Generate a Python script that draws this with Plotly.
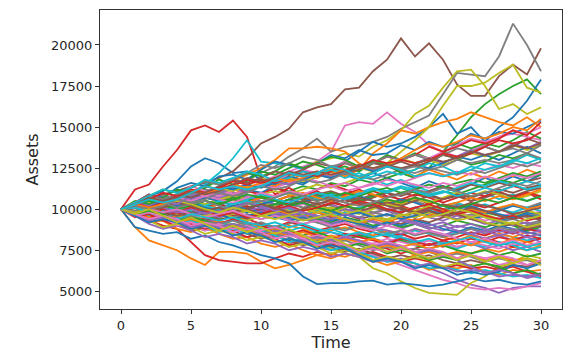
import plotly.graph_objects as go

time = list(range(31))

path_00 = [10000,10400,10800,11100,11700,12600,13100,12800,12200,12300,11800,11500,11900,11600,12000,12300,12100,11800,12200,11900,11600,11300,11700,11400,11100,11500,11900,11600,12000,11700,12100]
path_01 = [10000,8900,8100,7800,7500,7000,6600,7400,7400,7300,6800,6400,6600,6900,7200,7000,7300,7100,6800,7100,6900,7200,7500,7300,7000,7300,7600,7400,7700,7500,7800]
path_02 = [10000,10200,10500,10300,10600,10400,10800,11100,10900,11200,11500,11300,11100,11400,11200,11600,11400,11800,11600,11900,12200,11900,12500,13500,14500,15600,16400,17000,17500,17900,17000]
path_03 = [10000,11200,11500,12600,13600,14800,15100,14700,15400,14400,11900,10900,11300,10800,11100,10600,10900,11200,10800,11000,10500,10700,10300,10600,10900,10500,10800,11100,10700,11000,10600]
path_04 = [10000,9700,9400,9600,9200,9000,8700,8900,8500,8300,8500,8100,7900,8100,7700,7500,7700,7300,7100,6800,7000,6700,6400,6100,5700,5400,5200,4900,5200,5300,5300]
path_05 = [10000,10300,10600,10900,11100,11400,11600,11900,12300,13100,14000,14400,14900,15900,16200,16400,17300,17400,18400,19100,20400,19300,20100,19100,17600,16900,16900,18100,18800,18200,19800]
path_06 = [10000,10300,10100,10400,10800,10600,11000,11300,11100,11500,11700,12000,12300,12600,12900,13500,15100,15300,15200,15900,15200,14700,13900,13500,13200,13600,13900,14400,14600,14400,14200]
path_07 = [10000,10200,10500,10300,10700,10900,11200,11000,11400,11800,12200,12600,13200,13700,14300,13500,13800,13900,14100,14400,14900,15300,15700,17000,18300,18200,18100,19300,21300,20000,18400]
path_08 = [10000,10100,9800,10200,10400,10300,10700,10900,11200,11000,11400,11800,12000,12400,12900,13100,13400,13200,13800,14200,14800,15800,16300,17400,18400,18500,17500,16100,16400,15800,16200]
path_09 = [10000,10300,10600,10400,10700,11000,11500,12200,13100,14200,12900,12800,12700,12400,12100,12300,11900,12200,11800,11500,11800,11400,11100,11400,11000,10700,11000,10600,10900,10500,10800]
path_10 = [10000,9800,10100,10400,10200,10500,10800,10600,10900,11200,11000,11400,11700,11500,12000,12400,12900,13500,14100,13800,14000,14400,15000,15800,14600,15000,14100,15000,15600,16600,17900]
path_11 = [10000,10200,9900,10300,10600,10400,10800,11100,10900,11300,11600,11400,11800,12100,11900,12300,12000,12400,13400,14000,14800,14600,15000,15300,15500,15900,15600,15300,15100,15600,15000]
path_12 = [10000,10200,10400,10200,9900,10100,10300,10000,9800,10100,9900,10200,10400,10100,9900,9700,10000,9800,10100,10300,10100,9800,9600,9900,9700,9500,9800,9600,9400,9700,9500]
path_13 = [10000,9600,9300,9000,8800,8000,7200,6900,6800,6700,6700,7000,7300,7100,7400,7200,7600,7400,7800,7600,7300,7600,7900,7700,8000,7800,8200,8000,7700,8000,8200]
path_14 = [10000,9800,10100,10300,10100,10400,10200,10000,9700,9500,9800,9600,9900,9700,9500,9200,9400,9100,9300,9000,8800,9100,8900,8700,9000,8800,8500,8800,8600,8900,8700]
path_15 = [10000,10300,10100,10400,10200,10500,10700,10500,10800,10600,10300,10500,10800,10600,10900,11100,10800,10600,10900,10700,11000,10800,11100,11400,11200,11500,11300,11600,11400,11700,11900]
path_16 = [10000,9800,9500,9700,9400,9100,9300,9000,8700,8900,8600,8300,8500,8200,7900,8100,7800,7500,7200,6900,6600,6300,6000,5700,5500,5200,5100,5200,5100,5300,5500]
path_17 = [10000,9700,9900,9600,9800,10000,9700,9900,10200,10000,10300,10100,9800,10000,10200,9900,10100,10400,10200,10000,10300,10500,10200,10000,10300,10100,9800,10000,10300,10100,10400]
path_18 = [10000,9900,9600,9800,9500,9200,9400,9100,8800,9000,8700,8400,8600,8200,7900,7600,7300,7100,6400,6100,5600,5200,4900,4840,4780,5500,5900,6500,6800,7200,7000]
path_19 = [10000,10300,10000,10200,9900,9700,10000,9800,9500,9700,9400,9600,9300,9100,9300,9000,8800,9100,8900,8600,8400,8700,8500,8300,8600,8400,8200,8500,8300,8100,8300]
path_20 = [10000,8900,8700,8500,8600,8200,8400,8000,7800,7500,7200,7000,6700,5900,5440,5500,5500,5600,5650,5400,5500,5400,5300,5400,5600,5800,5600,5700,5500,5400,5600]
path_21 = [10000,10300,10600,10400,10800,11100,10900,11300,11700,12100,12500,13000,13700,13700,13800,13700,13500,12800,12400,12700,12300,12000,12400,12100,11800,12200,11900,12300,12000,12400,12100]
path_22 = [10000,9800,10100,9900,9700,9900,9600,9400,9500,9300,9600,9800,9500,9700,9400,9200,9500,9300,9000,9200,8900,9100,8800,9000,9300,9100,8900,9200,9000,8700,8900]
path_23 = [10000,10300,10500,10200,10600,10400,10800,11000,10700,11100,10900,11300,11000,10800,11200,11500,11200,10900,11100,10800,10600,10900,10700,10400,10700,11000,10800,11100,11400,11200,11500]
path_24 = [10000,9600,9400,9700,9300,9100,9400,9200,8900,8700,9000,8800,8500,8700,8400,8600,8300,8500,8200,8000,8300,8100,7800,8000,7700,7900,7600,7800,7500,7700,7400]
path_25 = [10000,10200,9900,10100,10400,10200,10500,10300,10100,10400,10700,10500,10800,10600,10300,10500,10200,10400,10700,11000,10800,11100,10900,10600,10800,10500,10700,11000,10800,11100,11300]
path_26 = [10000,9700,9900,10200,10000,9700,9500,9800,9600,9900,10100,9800,10000,10300,10100,9800,9600,9900,9700,10000,10200,9900,9700,9500,9800,9600,9300,9500,9800,9600,9900]
path_27 = [10000,10400,10200,10500,10800,10600,10300,10600,10900,10700,10400,10600,10300,10100,10400,10200,9900,10100,9800,10000,9700,9500,9800,9600,9400,9700,9500,9200,9400,9100,9300]
path_28 = [10000,10100,10300,10000,10200,10500,10300,10600,10800,10600,10900,11100,10900,11200,11500,11300,11600,11900,12300,12800,13500,14200,15000,16300,17500,17500,17700,18300,18800,17400,17100]
path_29 = [10000,9900,9600,9800,9500,9700,9900,9600,9800,10100,9900,10200,10000,9700,9900,9600,9800,10100,10300,10000,9800,10100,9900,10200,10400,10100,10300,10000,9800,10100,9900]
path_30 = [10000,10200,10400,10100,9900,10200,10000,10300,10100,9800,10000,9700,9500,9800,9600,9300,9500,9200,9400,9700,9500,9800,9600,9900,9700,9400,9600,9300,9500,9800,9600]
path_31 = [10000,9700,9500,9300,9600,9400,9100,9300,9000,9200,8900,8700,9000,8800,8500,8700,8900,8600,8400,8700,8500,8800,8600,8300,8100,8400,8200,8500,8300,8600,8400]
path_32 = [10000,10300,10100,10400,10200,9900,10100,10400,10700,10500,10800,10600,10300,10500,10800,11000,10700,10500,10800,11100,11300,11000,10800,11100,10900,11200,11500,11800,11600,11900,12100]
path_33 = [10000,9800,9500,9700,9400,9200,9500,9300,9600,9400,9100,8900,9200,9000,8700,8900,9100,8800,8600,8300,8500,8200,8400,8100,8300,8600,8400,8700,8500,8800,8600]
path_34 = [10000,10200,10500,10700,10400,10600,10900,10700,11000,10800,10500,10300,10600,10400,10100,10300,10000,9800,10100,9900,9600,9800,9500,9300,9600,9400,9100,9300,9000,9200,8900]
path_35 = [10000,9700,9900,9600,9400,9600,9300,9500,9700,9400,9600,9900,9700,10000,9800,9500,9700,9400,9600,9300,9100,9400,9200,9500,9700,9400,9200,8900,9100,8800,9000]
path_36 = [10000,10300,10600,10400,10700,11000,10800,11100,10900,11200,11500,11300,11600,11900,11700,11400,11600,11300,11500,11800,11600,11900,12200,12000,12300,12100,12400,12700,12500,12800,12600]
path_37 = [10000,9800,10000,9700,9900,10200,10000,9800,9500,9700,9400,9600,9300,9500,9200,9400,9700,9500,9800,9600,9900,10100,9800,10000,9700,9900,9600,9400,9700,9500,9800]
path_38 = [10000,10100,10400,10200,9900,10100,9800,10000,10300,10100,10400,10200,9900,9700,10000,9800,10100,10400,10200,10500,10300,10600,10400,10700,11000,10800,11100,10900,10600,10800,11100]
path_39 = [10000,9700,9400,9600,9300,9500,9200,9000,9300,9100,8800,9000,8700,8900,8600,8800,8500,8300,8600,8400,8200,7900,8100,7800,7600,7900,7700,8000,7800,7500,7700]
path_40 = [10000,10300,10100,9900,10200,10400,10700,10500,10200,10400,10100,10300,10600,10400,10700,10900,10600,10800,10500,10300,10600,10400,10100,9900,10200,10000,9700,9900,10200,10000,10300]
path_41 = [10000,9900,10200,10500,10300,10000,9800,10100,9900,9600,9800,10000,9700,9500,9800,9600,9300,9100,9400,9200,9500,9300,9600,9900,9700,10000,9800,10100,10300,10000,10200]
path_42 = [10000,9600,9800,9500,9300,9000,9200,8900,9100,8800,8600,8900,8700,8400,8600,8300,8100,8400,8200,7900,8100,7800,7600,7800,7500,7300,7500,7200,7400,7100,7300]
path_43 = [10000,10200,10000,10300,10600,10400,10100,10300,10000,10200,9900,10100,10400,10700,10500,10800,10600,10300,10100,10400,10200,9900,10100,9800,10000,10300,10100,10400,10700,11000,10800]
path_44 = [10000,9800,10100,9900,10200,10000,9700,9500,9800,9600,9900,9700,9400,9600,9300,9100,9400,9200,8900,8700,8500,8800,8600,8400,8700,8500,8200,8400,8100,8300,8000]
path_45 = [10000,10100,9800,10000,10200,9900,9700,10000,9800,10100,10300,10000,10200,10500,10300,10000,10200,9900,10100,10400,10200,10500,10800,10600,10900,10700,11000,11200,11000,11300,11500]
path_46 = [10000,9600,9300,9500,9200,9000,8700,8900,8600,8800,8500,8300,8600,8400,8200,8000,8300,8100,7900,8200,8000,7800,8100,7900,7700,8000,7800,7600,7900,7700,8000]
path_47 = [10000,10300,10500,10800,10600,10900,11200,11000,11300,11100,11400,11700,11500,11800,12100,11900,12200,12000,11800,12100,12400,12200,12500,12300,12100,12400,12200,12500,12800,12600,12900]
path_48 = [10000,9800,9600,9900,9700,9400,9600,9800,9500,9300,9600,9400,9700,10000,9800,10100,9900,9700,10000,10300,10100,9900,10200,10000,9800,9500,9700,9400,9600,9900,9700]
path_49 = [10000,10200,10500,10300,10100,10400,10200,10500,10300,10600,10900,10700,11000,10800,10600,10900,10700,11000,11300,11100,11400,11200,10900,11100,10800,11000,11300,11100,11400,11700,11500]
path_50 = [10000,9700,9900,10100,9800,9600,9900,9700,9400,9600,9800,9500,9300,9500,9200,9000,9300,9100,8900,9200,9000,9300,9100,8800,8600,8900,8700,9000,8800,8600,8400]
path_51 = [10000,10300,10000,9800,10100,10300,10000,10300,10600,10400,10700,10500,10800,11000,10700,10500,10800,11100,10900,10600,10400,10700,10500,10200,10400,10700,10500,10800,10600,10900,11200]
path_52 = [10000,10100,9900,10200,10000,10300,10500,10300,10600,10400,10100,10300,10600,10800,10500,10700,11000,10800,11100,11300,11000,11200,11500,11300,11600,11800,11600,11900,12200,12000,12300]
path_53 = [10000,9700,9400,9600,9800,9500,9300,9100,9400,9200,9000,8700,8500,8700,8400,8200,8500,8300,8100,7900,8200,8000,7800,8100,7900,8200,8000,8300,8100,8400,8200]
path_54 = [10000,10200,10000,9700,9900,9600,9800,10000,9700,9900,10100,9800,9600,9800,9500,9700,10000,9800,9500,9700,9400,9200,9000,9200,8900,9100,8800,8600,8800,8500,8700]
path_55 = [10000,9900,10100,9800,9600,9800,10100,9900,10200,10000,9700,9900,10200,10400,10100,10300,10600,10400,10200,9900,10100,9800,10000,10300,10100,10400,10200,10000,9700,9900,10100]
path_56 = [10000,10300,10100,10400,10700,10500,10800,10600,10400,10700,11000,10800,11100,10900,11200,11400,11100,11300,11600,11400,11700,11500,11300,11600,11400,11700,12000,11800,12100,11900,12200]
path_57 = [10000,9700,9900,9700,9400,9600,9300,9100,9300,9000,9200,8900,9100,9400,9200,8900,8700,9000,8800,8500,8700,8400,8600,8300,8500,8800,8600,8900,8700,9000,9200]
path_58 = [10000,10200,9900,10100,10300,10000,10200,9900,9700,9900,9600,9800,10100,9900,10200,10000,9700,9900,9600,9400,9700,9500,9800,9600,9300,9500,9200,9000,9200,8900,9100]
path_59 = [10000,9800,9600,9900,10100,9900,10200,10000,10300,10500,10300,10600,10400,10700,11000,10800,10600,10900,11200,11000,11300,11100,10800,11000,11300,11600,11400,11700,11500,11200,11400]
path_60 = [10000,10100,10300,10500,10200,10400,10100,9900,10200,10000,10300,10500,10200,10400,10100,9900,9600,9800,9500,9700,9400,9600,9900,9700,10000,10200,9900,9700,9500,9700,9400]
path_61 = [10000,9800,9500,9300,9100,9300,9000,8800,9000,8700,8500,8800,8600,8300,8100,8400,8200,8000,8200,7900,7700,7900,7600,7800,8000,7800,8100,7900,8200,8000,7800]
path_62 = [10000,10300,10500,10300,10000,10200,10500,10300,10600,10900,10700,10500,10200,10400,10100,9900,10200,10000,10300,10600,10400,10700,10500,10200,10000,10300,10600,10400,10700,10500,10800]
path_63 = [10000,9900,9700,10000,9800,10100,9900,9600,9800,9500,9700,10000,10200,9900,10100,10400,10200,10500,10300,10000,9800,10100,10300,10000,9700,9900,9600,9400,9600,9300,9500]
path_64 = [10000,10100,10300,10100,9800,10000,9700,9900,10100,10400,10200,9900,10100,9800,9600,9400,9700,9500,9200,9000,9300,9100,8800,9000,8700,8500,8700,8400,8600,8300,8500]
path_65 = [10000,9700,9900,10100,10400,10200,9900,10100,9800,10000,10300,10100,9800,10000,10300,10600,10400,10700,10500,10200,10000,9700,9900,9600,9800,10100,9900,9600,9400,9600,9300]
path_66 = [10000,10200,10000,9800,10000,9700,9500,9700,9900,9600,9400,9600,9300,9100,9300,9000,9200,8900,8700,9000,8800,8500,8700,8500,8200,8000,8200,7900,8100,7800,8000]
path_67 = [10000,9900,10200,10400,10100,10300,10500,10200,10000,10300,10500,10700,11000,10800,10500,10700,10400,10200,10400,10700,10900,11200,11000,11300,11100,10800,11000,11300,11600,11400,11700]
path_68 = [10000,9800,10000,10300,10500,10300,10000,9800,10100,9900,9600,9400,9600,9300,9500,9700,9400,9200,9500,9300,9600,9800,9500,9700,10000,9800,9500,9300,9100,9400,9600]
path_69 = [10000,10100,9800,9600,9400,9700,9500,9300,9500,9200,9000,9200,8900,9100,8800,8600,8400,8600,8300,8500,8300,8000,8200,7900,8100,8300,8000,7800,8000,7700,7900]
path_70 = [10000,10400,10900,10700,11300,11600,11400,12000,12100,11800,12400,12900,12700,12500,12800,13300,13100,13600,13300,13400,13900,13600,14100,13800,14000,14600,14300,14700,14600,15000,15400]
path_71 = [10000,9600,9200,9300,8800,8600,8900,8500,8200,8300,7900,7700,7900,7500,7200,7300,7100,7400,6900,6600,6800,6700,6300,6500,6400,6600,6200,6000,6300,6200,6300]
path_72 = [10000,10500,10300,10700,11200,11000,11300,11800,11500,11700,12300,12100,12500,12900,12700,12400,12600,12300,12800,13300,13000,13400,13100,13400,14000,13700,14000,13800,14200,14700,14300]
path_73 = [10000,9500,9700,9300,9000,9100,8800,9000,8700,8300,8500,8200,7800,8000,7700,7900,7600,7200,7400,7100,6800,7000,6800,6400,6600,6400,6500,6300,6500,6200,5900]
path_74 = [10000,10400,10200,10500,10300,10800,11100,10900,11300,11000,11400,11700,11500,11900,12200,12000,12400,12700,12400,12600,12300,12800,13100,12800,13200,13600,13300,13500,14000,13700,14100]
path_75 = [10000,9600,9200,9400,9100,8700,8900,8700,8800,8500,8200,8400,8100,7800,8000,7700,7400,7600,7300,7000,7200,7000,7200,6900,6700,6900,6700,6400,6600,6500,6800]
path_76 = [10000,10400,10900,10600,10900,11400,11100,10800,11100,11600,11900,11700,12100,12400,12200,12500,12900,12600,12900,12700,13000,13300,13100,13500,13900,14300,14100,14400,14800,14600,15000]
path_77 = [10000,9700,9300,9500,9200,9400,9100,8700,8900,8700,8300,8500,8300,7900,8100,7900,8100,7800,7500,7700,7500,7600,7400,7100,7300,7100,6800,7000,6800,6900,6600]
path_78 = [10000,10300,10700,10500,10900,11200,11000,11300,11100,11400,11900,11600,11900,11700,12000,12500,12200,12500,12300,12600,13100,12800,13000,12700,13000,13400,13200,13500,13900,13600,13900]
path_79 = [10000,9600,9800,9500,9100,9300,9000,8600,8800,8500,8700,8400,8000,8200,7900,7500,7700,7400,7100,6800,6900,6700,6400,6500,6300,6100,6300,6100,5900,6000,5800]
path_80 = [10000,10300,10100,10500,10900,10700,11000,11400,11200,11500,11300,11600,12000,11800,12100,11900,12200,12600,12300,12600,12400,12700,12500,12800,13200,13000,13300,13000,13400,13800,13400]
path_81 = [10000,9700,9900,9600,9200,9400,9200,8800,9000,8800,8400,8600,8400,8600,8300,8000,8200,8000,7600,7800,7600,7200,7400,7200,7400,7200,6900,7100,6900,7000,6800]
path_82 = [10000,10300,10800,11200,11000,11300,11700,11500,11800,12200,12000,12300,12800,12500,12800,13200,13000,12600,12900,12700,12200,12400,12900,13300,13100,12700,12900,13300,13100,13400,13000]
path_83 = [10000,10400,10100,10400,10800,11200,11000,11300,11700,11500,11800,11600,11900,12300,12000,12300,12800,12500,12800,13200,13000,13300,13800,13500,13800,14200,14000,14300,14800,14500,15300]
path_84 = [10000,9600,9100,8800,9000,8700,8300,8500,8300,7900,8100,7900,7500,7700,7500,7100,7300,7100,6800,6900,6800,6500,6700,6500,6200,6300,6200,5900,6000,5900,6100]
path_85 = [10000,10400,10900,10600,10900,10700,11000,11400,11800,11600,11900,12300,12100,12400,12800,12600,12200,12400,12800,12600,12900,12600,12900,13300,13100,13400,13800,13500,13800,14300,14000]
path_86 = [10000,9600,9800,9500,9000,9200,8900,9100,8800,9000,8700,8900,8600,8200,8400,8200,7800,8000,7800,8000,7800,7400,7600,7400,7000,7200,7000,6600,6800,6600,6900]
path_87 = [10000,10300,10800,10600,10900,11300,11700,11500,11800,12200,12700,12500,12800,13200,13000,12600,12800,12500,12800,13200,13000,13300,13000,13300,13700,13500,13800,13500,13700,13400,13900]
path_88 = [10000,9700,9300,8900,9100,8900,8500,8700,8500,8100,8300,8100,7700,7900,7700,7300,7500,7300,6900,7100,6900,7100,6900,6500,6700,6500,6700,6500,6700,7000,6800]
path_89 = [10000,10400,10800,11200,11000,11300,11800,11600,11900,12300,12100,11700,11900,12300,12100,12400,12200,11800,12000,12300,12100,12400,12800,12600,12200,12400,12800,12600,12900,13300,13000]
path_90 = [10000,9600,9200,9400,9200,8800,9000,8800,8400,8600,8400,8000,8200,8000,7600,7800,7600,7200,6800,7000,6800,6400,6600,6400,6000,6200,6000,6200,6600,6400,6700]
path_91 = [10000,10300,10100,10300,10700,11100,10900,11200,11500,11300,11600,11900,11700,11900,12300,12100,12400,12700,12500,12700,13100,13600,14000,13800,14100,14500,14300,14600,15000,14800,15500]
path_92 = [10000,9700,9900,9700,9300,9500,9300,8900,9100,8900,8500,8700,8500,8100,8300,8100,7700,7900,7700,7300,7500,7300,6900,7100,6900,6500,6700,6500,6100,6300,6000]
path_93 = [10000,10300,10600,11000,10800,11000,11400,11200,11500,11800,11600,11800,12200,12000,12200,12600,12400,12600,13000,12800,13000,12800,13000,13400,13200,13400,13800,14200,14000,14200,14700]
path_94 = [10000,9700,9300,9500,9300,8900,9100,8900,9100,8900,8500,8700,8500,8100,8300,8100,8300,8100,7700,7900,7700,7300,7500,7300,6900,6500,6100,6300,6100,5800,6000]
path_95 = [10000,10300,10700,10500,10700,11100,10900,11100,11500,11900,11700,11900,12300,12100,12300,12100,12300,12700,12500,12700,12500,12700,13100,12900,13100,13500,13300,13500,13900,13700,14000]
path_96 = [10000,9700,9400,9600,9400,9000,9200,9000,8600,8800,8600,8200,8400,8200,7800,8000,7800,7400,7600,7400,7600,7400,7000,7200,7000,7200,7000,7200,7000,6600,6900]
path_97 = [10000,10200,10000,10200,10600,10400,10600,11000,10800,11000,11400,11200,11400,11800,11600,11800,12200,12000,12200,12600,12400,12600,12400,12600,13000,12800,13000,12800,13000,13400,13100]
path_98 = [10000,9700,10000,9600,9200,9500,9100,8700,9000,8600,8900,8500,8800,8400,8000,8300,7900,7500,7800,7400,7700,7300,7000,7300,6900,7200,6800,7100,6700,7000,6600]
path_99 = [10000,10300,10600,10400,10600,11000,11400,11200,11400,11200,11400,11800,12200,12000,12200,12600,12400,12000,12200,12600,12400,12000,12200,12000,12200,12600,12400,12600,13000,12800,13100]

paths = [path_00, path_01, path_02, path_03, path_04, path_05, path_06, path_07, path_08, path_09,
         path_10, path_11, path_12, path_13, path_14, path_15, path_16, path_17, path_18, path_19,
         path_20, path_21, path_22, path_23, path_24, path_25, path_26, path_27, path_28, path_29,
         path_30, path_31, path_32, path_33, path_34, path_35, path_36, path_37, path_38, path_39,
         path_40, path_41, path_42, path_43, path_44, path_45, path_46, path_47, path_48, path_49,
         path_50, path_51, path_52, path_53, path_54, path_55, path_56, path_57, path_58, path_59,
         path_60, path_61, path_62, path_63, path_64, path_65, path_66, path_67, path_68, path_69,
         path_70, path_71, path_72, path_73, path_74, path_75, path_76, path_77, path_78, path_79,
         path_80, path_81, path_82, path_83, path_84, path_85, path_86, path_87, path_88, path_89,
         path_90, path_91, path_92, path_93, path_94, path_95, path_96, path_97, path_98, path_99]

x_ticks = [0, 5, 10, 15, 20, 25, 30]
y_ticks = [5000, 7500, 10000, 12500, 15000, 17500, 20000]

palette = ["#1f77b4", "#ff7f0e", "#2ca02c", "#d62728", "#9467bd",
           "#8c564b", "#e377c2", "#7f7f7f", "#bcbd22", "#17becf"]

fig = go.Figure()
for i, p in enumerate(paths):
    fig.add_trace(go.Scatter(x=time, y=p, mode="lines",
                             line=dict(color=palette[i % 10], width=1.8),
                             showlegend=False, hoverinfo="skip"))

axis_common = dict(showgrid=False, zeroline=False, showline=True, mirror=True,
                   linecolor="#333333", linewidth=1, ticks="outside", ticklen=4,
                   tickcolor="#333333", automargin=False,
                   tickfont=dict(family="DejaVu Sans", size=13, color="#262626"))

# the page body adds an 8px offset, so margins are shifted to keep the plot box in place
fig.update_layout(
    width=580, height=362,
    margin=dict(l=92, r=26, t=2, b=61),
    plot_bgcolor="white", paper_bgcolor="white",
    font=dict(family="DejaVu Sans", size=13, color="#262626"),
    xaxis=dict(range=[-1.5, 31.5], tickvals=x_ticks, tickformat="d",
               title=dict(text="Time", standoff=4), **axis_common),
    yaxis=dict(range=[3920, 22130], tickvals=y_ticks, tickformat="d",
               title=dict(text="Assets", standoff=8), **axis_common),
)

fig.write_html("out.html")
